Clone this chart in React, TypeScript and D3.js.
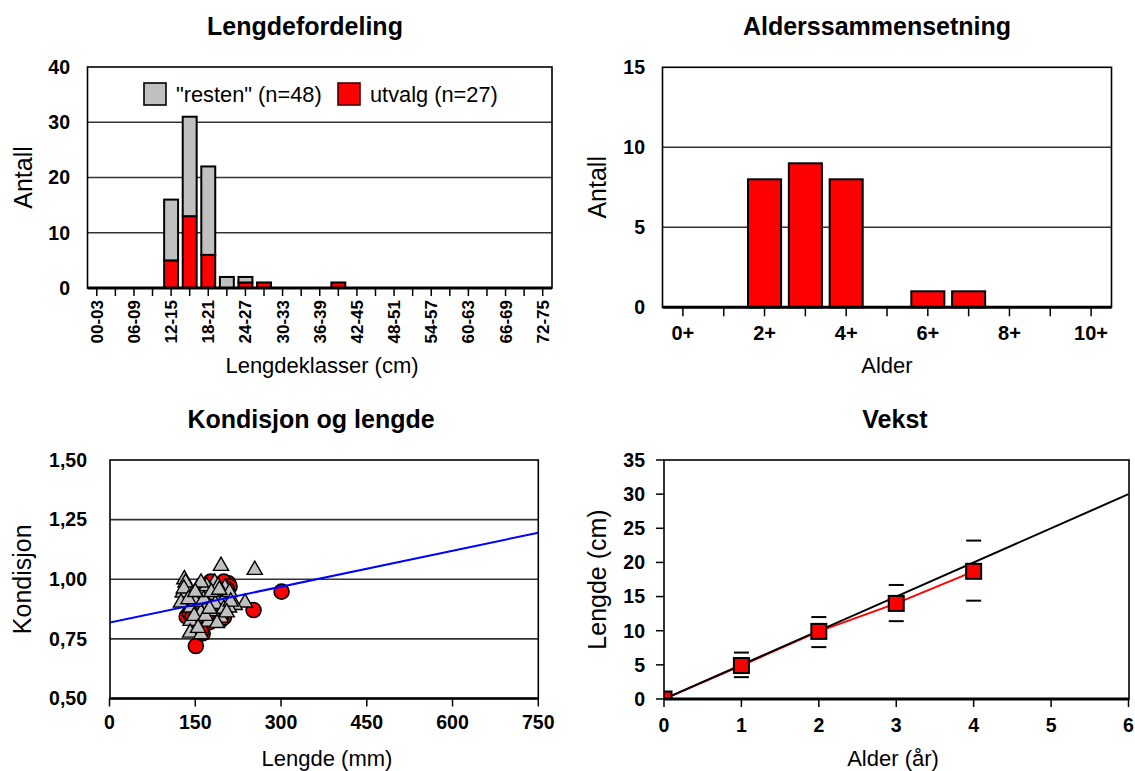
import * as d3 from 'd3';

// --- Lengdefordeling ---
const lengthClasses = [
  '00-03', '03-06', '06-09', '09-12', '12-15', '15-18', '18-21', '21-24', '24-27',
  '27-30', '30-33', '33-36', '36-39', '39-42', '42-45', '45-48', '48-51', '51-54',
  '54-57', '57-60', '60-63', '63-66', '66-69', '69-72', '72-75',
];
const utvalgCount = [0, 0, 0, 0, 5, 13, 6, 0, 1, 1, 0, 0, 0, 1, 0, 0, 0, 0, 0, 0, 0, 0, 0, 0, 0];
const restenCount = [0, 0, 0, 0, 11, 18, 16, 2, 1, 0, 0, 0, 0, 0, 0, 0, 0, 0, 0, 0, 0, 0, 0, 0, 0];
const lengthTicks = [0, 10, 20, 30, 40];

// --- Alderssammensetning ---
const ageClasses = ['0+', '1+', '2+', '3+', '4+', '5+', '6+', '7+', '8+', '9+', '10+'];
const ageCount = [0, 0, 8, 9, 8, 0, 1, 1, 0, 0, 0];
const ageTicks = [0, 5, 10, 15];

// --- Kondisjon og lengde ---
const restenLen = [195, 254, 131, 133, 128, 130, 125, 237, 219, 184, 202, 154, 156, 184, 205, 172,
  142, 160, 195, 209, 142, 173, 195, 141, 160, 163, 145, 170, 190, 198, 150, 165,
  180, 185, 210, 148, 168, 200, 155, 178, 138, 212, 188, 160, 175, 150, 205, 192];
const restenK = [1.06, 1.043, 1.004, 0.99, 0.948, 0.965, 0.906, 0.906, 0.896, 0.99, 0.969, 0.969,
  0.93, 0.938, 0.927, 0.899, 0.885, 0.864, 0.857, 0.885, 0.829, 0.826, 0.843, 0.78, 0.773, 0.955,
  0.94, 0.975, 0.975, 0.91, 0.91, 0.92, 0.87, 0.9, 0.95, 0.85, 0.85, 0.88, 0.8, 0.95, 0.92, 0.91,
  0.82, 0.99, 0.88, 0.95, 0.865, 0.96];
const utvalgLen = [151, 301, 252, 208, 177, 135, 163, 195, 170, 200, 158, 185, 145, 210, 165, 190,
  155, 200, 140, 175, 160, 182, 150, 205, 168, 192, 145];
const utvalgK = [0.72, 0.948, 0.871, 0.983, 0.99, 0.843, 0.773, 0.83, 0.96, 0.99, 0.8, 0.85, 0.9,
  0.97, 0.87, 0.93, 0.94, 0.84, 0.86, 0.82, 0.78, 0.9, 0.88, 0.96, 0.91, 0.88, 0.84];
const trendLen = [0, 750];
const trendK = [0.818, 1.195];
const kTicks = [0.5, 0.75, 1.0, 1.25, 1.5];
const mmTicks = [0, 150, 300, 450, 600, 750];

// --- Vekst ---
const growthAge = [0, 1, 2, 3, 4];
const growthMean = [0, 4.9, 9.9, 14.0, 18.7];
const growthHi = [null, 6.8, 12.0, 16.7, 23.2];
const growthLo = [null, 3.2, 7.6, 11.4, 14.4];
const modelAge = [0, 6];
const modelLen = [0, 30];
const cmTicks = [0, 5, 10, 15, 20, 25, 30, 35];
const yearTicks = [0, 1, 2, 3, 4, 5, 6];

const FONT = 'Liberation Sans, Arial, sans-serif';
const GRID = '#333';
const TICK_FS = 19.5;

const Title = ({ x, y, text }: { x: number; y: number; text: string }) => (
  <text x={x} y={y} textAnchor="middle" fontSize={25} fontWeight="bold">{text}</text>
);
const YTitle = ({ x, y, text }: { x: number; y: number; text: string }) => (
  <text transform={`translate(${x},${y}) rotate(-90)`} textAnchor="middle" fontSize={25}>{text}</text>
);
const XTitle = ({ x, y, text }: { x: number; y: number; text: string }) => (
  <text x={x} y={y} textAnchor="middle" fontSize={22}>{text}</text>
);

const LengthChart = () => {
  const x0 = 87.5, x1 = 552, top = 67, bottom = 288;
  const x = d3.scaleBand().domain(lengthClasses).range([x0, x1]).paddingInner(0.25).paddingOuter(0.125);
  const y = d3.scaleLinear().domain([0, 40]).range([bottom, top]);
  return (
    <g>
      <Title x={305} y={35} text="Lengdefordeling" />
      {lengthTicks.slice(1, -1).map((t) => (
        <line key={t} x1={x0} x2={x1} y1={y(t)} y2={y(t)} stroke={GRID} strokeWidth={1.6} />
      ))}
      {lengthClasses.map((c, i) => (
        <g key={c}>
          <rect x={x(c)} width={x.bandwidth()} y={y(utvalgCount[i])} height={y(0) - y(utvalgCount[i])}
            fill="#ff0000" stroke="#000" strokeWidth={2} />
          {restenCount[i] > 0 && (
            <rect x={x(c)} width={x.bandwidth()} y={y(utvalgCount[i] + restenCount[i])}
              height={y(0) - y(restenCount[i])} fill="#c0c0c0" stroke="#000" strokeWidth={2} />
          )}
        </g>
      ))}
      <rect x={x0} y={top} width={x1 - x0} height={bottom - top} fill="none" stroke="#000" strokeWidth={1.6} />
      <line x1={x0} x2={x1} y1={bottom} y2={bottom} stroke="#000" strokeWidth={3} />
      {lengthClasses.map((c, i) => {
        const cx = (x(c) as number) + x.bandwidth() / 2;
        return (
          <g key={c}>
            <line x1={cx} x2={cx} y1={bottom} y2={bottom + 8} stroke="#000" strokeWidth={1.5} />
            {i % 2 === 0 && (
              <text transform={`translate(${cx},${bottom + 12}) rotate(-90)`} dy="0.35em" textAnchor="end"
                fontSize={17} fontWeight="bold">{c}</text>
            )}
          </g>
        );
      })}
      {lengthTicks.map((t) => (
        <text key={t} x={70} y={y(t)} dy="0.35em" textAnchor="end" fontSize={TICK_FS} fontWeight="bold">{t}</text>
      ))}
      <rect x={144} y={83} width={22} height={22} fill="#c0c0c0" stroke="#000" strokeWidth={1.6} />
      <text x={176} y={102} fontSize={21.8}>"resten" (n=48)</text>
      <rect x={338} y={83} width={22} height={22} fill="#ff0000" stroke="#400" strokeWidth={1.6} />
      <text x={370} y={102} fontSize={21.8}>utvalg (n=27)</text>
      <YTitle x={32} y={(top + bottom) / 2} text="Antall" />
      <XTitle x={322} y={373} text="Lengdeklasser (cm)" />
    </g>
  );
};

const AgeChart = () => {
  const x0 = 662.5, x1 = 1111.5, top = 67.3, bottom = 307.3;
  const x = d3.scaleBand().domain(ageClasses).range([x0, x1]).paddingInner(0.19).paddingOuter(0.095);
  const y = d3.scaleLinear().domain([0, 15]).range([bottom, top]);
  return (
    <g>
      <Title x={877} y={35} text="Alderssammensetning" />
      {ageTicks.slice(1, -1).map((t) => (
        <line key={t} x1={x0} x2={x1} y1={y(t)} y2={y(t)} stroke={GRID} strokeWidth={1.6} />
      ))}
      {ageClasses.map((c, i) => (
        <rect key={c} x={x(c)} width={x.bandwidth()} y={y(ageCount[i])} height={y(0) - y(ageCount[i])}
          fill="#ff0000" stroke="#000" strokeWidth={2} />
      ))}
      <rect x={x0} y={top} width={x1 - x0} height={bottom - top} fill="none" stroke="#000" strokeWidth={1.6} />
      <line x1={x0} x2={x1} y1={bottom} y2={bottom} stroke="#000" strokeWidth={3} />
      {ageClasses.map((c, i) => {
        const cx = (x(c) as number) + x.bandwidth() / 2;
        return (
          <g key={c}>
            <line x1={cx} x2={cx} y1={bottom} y2={bottom + 9} stroke="#000" strokeWidth={1.5} />
            {i % 2 === 0 && (
              <text x={cx} y={340} textAnchor="middle" fontSize={20} fontWeight="bold">{c}</text>
            )}
          </g>
        );
      })}
      {ageTicks.map((t) => (
        <text key={t} x={645} y={y(t)} dy="0.35em" textAnchor="end" fontSize={TICK_FS} fontWeight="bold">{t}</text>
      ))}
      <YTitle x={606} y={(top + bottom) / 2} text="Antall" />
      <XTitle x={887} y={373} text="Alder" />
    </g>
  );
};

const triangle = d3.symbol().type(d3.symbolTriangle).size(100);

const ConditionChart = () => {
  const x0 = 110, x1 = 538.3, top = 460, bottom = 698.5;
  const x = d3.scaleLinear().domain([0, 750]).range([109.5, 538.3]);
  const y = d3.scaleLinear().domain([0.5, 1.5]).range([bottom, top]);
  const fmt = (v: number) => v.toFixed(2).replace('.', ',');
  const trend = d3.line<number>().x((d) => x(d)).y((_, i) => y(trendK[i]));
  return (
    <g>
      <Title x={311} y={428} text="Kondisjon og lengde" />
      <defs>
        <clipPath id="clipK"><rect x={x0} y={top} width={x1 - x0} height={bottom - top} /></clipPath>
      </defs>
      {kTicks.slice(1, -1).map((t) => (
        <line key={t} x1={x0} x2={x1} y1={y(t)} y2={y(t)} stroke={GRID} strokeWidth={1.6} />
      ))}
      <g clipPath="url(#clipK)">
        {utvalgLen.map((l, i) => (
          <circle key={'u' + i} cx={x(l)} cy={y(utvalgK[i])} r={7.5} fill="#ff0000" stroke="#000" strokeWidth={1.6} />
        ))}
        {restenLen.map((l, i) => (
          <path key={'r' + i} d={triangle() as string} transform={`translate(${x(l)},${y(restenK[i]) + 1})`}
            fill="#c0c0c0" stroke="#000" strokeWidth={1.4} />
        ))}
        <path d={trend(trendLen) as string} fill="none" stroke="#0000ff" strokeWidth={2} />
      </g>
      <rect x={x0} y={top} width={x1 - x0} height={bottom - top} fill="none" stroke="#000" strokeWidth={1.6} />
      <line x1={x0} x2={x1} y1={bottom} y2={bottom} stroke="#000" strokeWidth={2.5} />
      {mmTicks.map((t) => (
        <g key={t}>
          <line x1={x(t)} x2={x(t)} y1={bottom} y2={bottom + 8} stroke="#000" strokeWidth={1.5} />
          <text x={x(t)} y={729} textAnchor="middle" fontSize={TICK_FS} fontWeight="bold">{t}</text>
        </g>
      ))}
      {kTicks.map((t) => (
        <text key={t} x={87} y={y(t)} dy="0.35em" textAnchor="end" fontSize={TICK_FS} fontWeight="bold">{fmt(t)}</text>
      ))}
      <YTitle x={31} y={(top + bottom) / 2} text="Kondisjon" />
      <XTitle x={327} y={766} text="Lengde (mm)" />
    </g>
  );
};

const GrowthChart = () => {
  const x0 = 664, x1 = 1129, top = 460, bottom = 699;
  const x = d3.scaleLinear().domain([0, 6]).range([664, 1128.5]);
  const y = d3.scaleLinear().domain([0, 35]).range([bottom, top]);
  const meanLine = d3.line<number>().x((d) => x(d)).y((_, i) => y(growthMean[i]));
  const modelLine = d3.line<number>().x((d) => x(d)).y((_, i) => y(modelLen[i]));
  const s = 15;
  return (
    <g>
      <Title x={895} y={428} text="Vekst" />
      <defs>
        <clipPath id="clipG"><rect x={x0} y={top} width={x1 - x0} height={bottom - top} /></clipPath>
      </defs>
      <g clipPath="url(#clipG)">
        <path d={meanLine(growthAge) as string} fill="none" stroke="#ff0000" strokeWidth={2} />
        <path d={modelLine(modelAge) as string} fill="none" stroke="#000" strokeWidth={2} />
        {growthAge.map((a, i) => (
          <g key={a}>
            {growthHi[i] !== null && (
              <line x1={x(a) - 7.5} x2={x(a) + 7.5} y1={y(growthHi[i] as number)} y2={y(growthHi[i] as number)}
                stroke="#000" strokeWidth={2} />
            )}
            {growthLo[i] !== null && (
              <line x1={x(a) - 7.5} x2={x(a) + 7.5} y1={y(growthLo[i] as number)} y2={y(growthLo[i] as number)}
                stroke="#000" strokeWidth={2} />
            )}
            <rect x={x(a) - s / 2} y={y(growthMean[i]) - s / 2} width={s} height={s}
              fill="#ff0000" stroke="#000" strokeWidth={2} />
          </g>
        ))}
      </g>
      <rect x={x0} y={top} width={x1 - x0} height={bottom - top} fill="none" stroke="#000" strokeWidth={1.6} />
      <line x1={x0} x2={x1} y1={bottom} y2={bottom} stroke="#000" strokeWidth={3} />
      {yearTicks.map((t) => (
        <g key={t}>
          <line x1={x(t)} x2={x(t)} y1={bottom} y2={bottom + 8} stroke="#000" strokeWidth={1.5} />
          <text x={x(t)} y={732} textAnchor="middle" fontSize={TICK_FS} fontWeight="bold">{t}</text>
        </g>
      ))}
      {cmTicks.map((t) => (
        <g key={t}>
          <line x1={x0 - 8} x2={x0} y1={y(t)} y2={y(t)} stroke="#000" strokeWidth={1.5} />
          <text x={645} y={y(t)} dy="0.35em" textAnchor="end" fontSize={TICK_FS} fontWeight="bold">{t}</text>
        </g>
      ))}
      <YTitle x={606} y={(top + bottom) / 2} text="Lengde (cm)" />
      <XTitle x={893} y={766} text="Alder (år)" />
    </g>
  );
};

export default function App() {
  return (
    <svg width={1135} height={771} style={{ position: 'absolute', left: 0, top: 0, background: '#fff' }}
      fontFamily={FONT}>
      <LengthChart />
      <AgeChart />
      <ConditionChart />
      <GrowthChart />
    </svg>
  );
}
